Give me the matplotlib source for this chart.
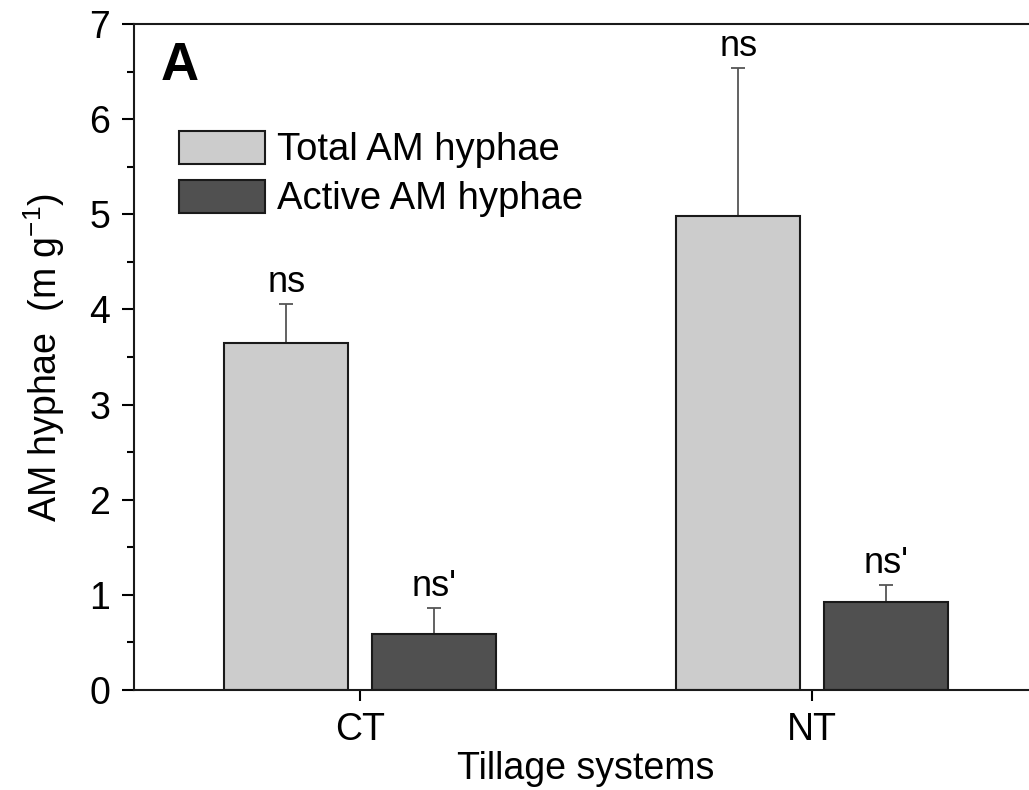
import numpy as np
import matplotlib
matplotlib.use('Agg')
import matplotlib.pyplot as plt

# data
systems = ['CT', 'NT']
total_hyphae = [3.65, 4.98]
total_err = [0.41, 1.56]
active_hyphae = [0.59, 0.925]
active_err = [0.27, 0.175]
total_marks = ['ns', 'ns']
active_marks = ["ns'", "ns'"]

plt.rcParams['font.family'] = ['Liberation Sans', 'DejaVu Sans']
plt.rcParams['mathtext.fontset'] = 'custom'
plt.rcParams['mathtext.rm'] = 'Liberation Sans'

fig = plt.figure(figsize=(10.29, 7.9), dpi=100)
ax = fig.add_axes([0.1302, 0.1266, 0.8785, 0.843])

x = np.arange(1, len(systems) + 1)
w = 0.274
off = 0.163

ax.bar(x - off, total_hyphae, w, color='#cccccc', edgecolor='#1a1a1a',
       linewidth=1.5, label='Total AM hyphae', zorder=2)
ax.bar(x + off, active_hyphae, w, color='#505050', edgecolor='#1a1a1a',
       linewidth=1.5, label='Active AM hyphae', zorder=2)

ax.errorbar(x - off, total_hyphae, yerr=[np.zeros(2), total_err], fmt='none',
            ecolor='#555555', elinewidth=1.3, capsize=5, capthick=1.3, zorder=1)
ax.errorbar(x + off, active_hyphae, yerr=[np.zeros(2), active_err], fmt='none',
            ecolor='#555555', elinewidth=1.3, capsize=5, capthick=1.3, zorder=1)

for i in range(len(systems)):
    ax.annotate(total_marks[i], (x[i] - off, total_hyphae[i] + total_err[i]),
                xytext=(0, 3), textcoords='offset points', ha='center', va='bottom',
                fontsize=26)
    ax.annotate(active_marks[i], (x[i] + off, active_hyphae[i] + active_err[i]),
                xytext=(0, 3), textcoords='offset points', ha='center', va='bottom',
                fontsize=26)

ax.set_xlim(0.5, 2.5)
ax.set_ylim(0, 7)
ax.set_xticks(x)
ax.set_xticklabels(systems)
ax.set_yticks(np.arange(0, 8, 1))
ax.set_yticks(np.arange(0.5, 7, 1), minor=True)

ax.spines['right'].set_visible(False)
for s in ['left', 'bottom', 'top']:
    ax.spines[s].set_linewidth(1.5)
    ax.spines[s].set_color('#1a1a1a')

ax.tick_params(axis='y', which='major', direction='out', length=9, width=1.5,
               labelsize=27, pad=8)
ax.tick_params(axis='y', which='minor', direction='out', length=5, width=1.5)
ax.tick_params(axis='x', which='major', direction='out', length=8, width=1.5,
               labelsize=27, pad=8)

ax.set_xlabel('Tillage systems', fontsize=27, labelpad=2)
ax.set_ylabel(r'AM hyphae  (m g$^{\mathregular{-1}}$)', fontsize=27, labelpad=16)

ax.text(0.03, 0.975, 'A', transform=ax.transAxes, fontsize=38, fontweight='bold',
        va='top', ha='left')

ax.legend(loc='upper left', bbox_to_anchor=(0.05, 0.84), frameon=False,
          fontsize=27.5, handlelength=2.25, handleheight=0.95, handletextpad=0.3,
          labelspacing=0.3, borderpad=0, borderaxespad=0)

fig.savefig('out.png', dpi=100)
